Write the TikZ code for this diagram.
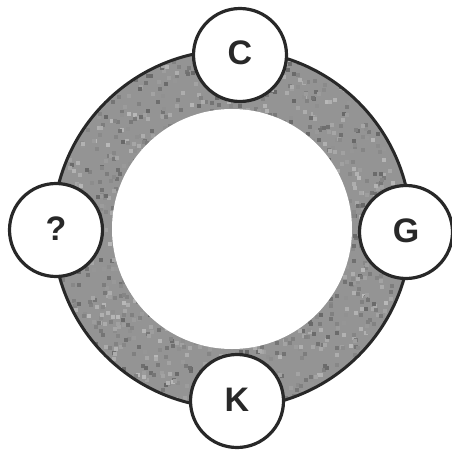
\documentclass[tikz,border=0pt]{standalone}
\usepackage{fontspec}
\usetikzlibrary{calc}
\setmainfont{Liberation Sans}
\definecolor{ringgray}{RGB}{148,148,148}
\definecolor{inkdark}{RGB}{40,40,40}
\begin{document}
\begin{tikzpicture}[x=1pt,y=-1pt,
  ringouter/.style={fill=ringgray,draw=none},
  ringedge/.style={draw=inkdark,line width=3pt},
  ringinner/.style={fill=white,draw=none},
  speck/.style={draw=none},
  letterball/.style={circle,fill=white,draw=inkdark,line width=3.2pt,minimum size=93pt,inner sep=0pt,font=\fontsize{34}{34}\selectfont\bfseries,text=inkdark}]
\useasboundingbox (0,0) rectangle (451,452);
\path[ringouter] (232,229) circle[radius=179];
\begin{scope}
  \clip (232,229) circle[radius=179];
  \pgfmathsetseed{42}
  \foreach \i in {1,...,900} {
    \pgfmathsetmacro{\ang}{rnd*360}
    \pgfmathsetmacro{\rad}{118+rnd*62}
    \pgfmathsetmacro{\shade}{int(28+rnd*32)}
    \fill[speck,black!\shade] ($(232,229)+(\ang:\rad)$) rectangle ++(4,4);
  }
\end{scope}
\path[ringedge] (232,229) circle[radius=179];
\path[ringinner] (232,229) circle[radius=120];
\node[letterball] (c) at (240,55) {\raisebox{4pt}{C}};
\node[letterball] (g) at (406,232) {\raisebox{3pt}{G}};
\node[letterball] (k) at (237,401) {\raisebox{3pt}{K}};
\node[letterball] (q) at (56,230) {\raisebox{3pt}{?}};
\end{tikzpicture}
\end{document}
